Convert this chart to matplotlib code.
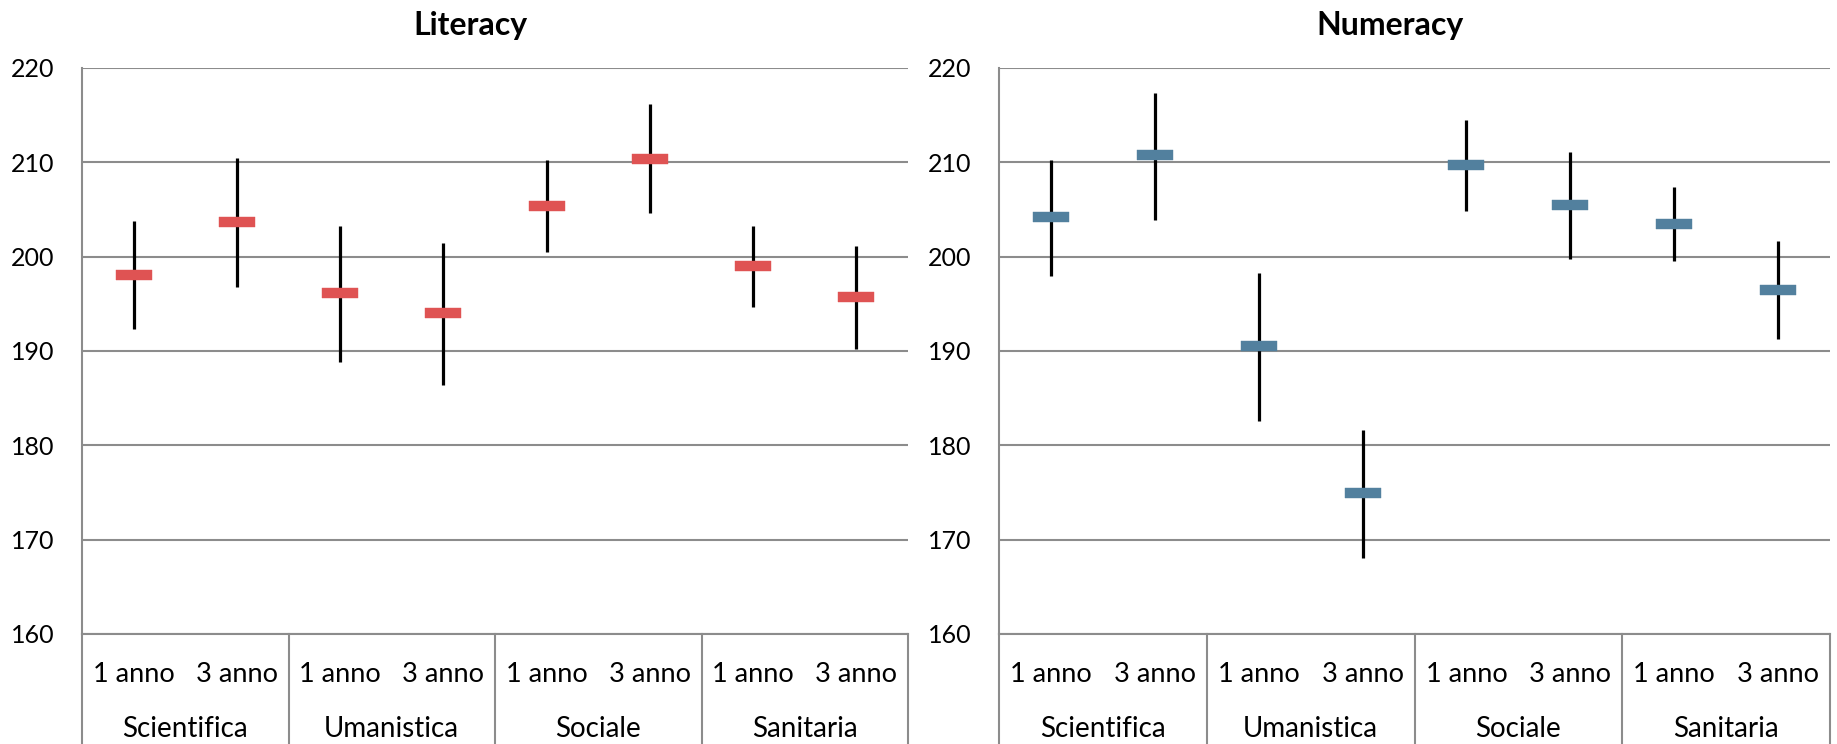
import numpy as np
import matplotlib.pyplot as plt
import matplotlib.transforms as mtransforms

plt.rcParams['font.family'] = ['Lato', 'DejaVu Sans']

# ── Data ──
groups = ['Scientifica', 'Umanistica', 'Sociale', 'Sanitaria']
years = ['1 anno', '3 anno']

lit_mean = [198.1, 203.7, 196.1, 194.0, 205.4, 210.4, 199.0, 195.7]
lit_low = [192.3, 196.8, 188.8, 186.4, 200.5, 204.6, 194.7, 190.2]
lit_high = [203.8, 210.5, 203.2, 201.5, 210.2, 216.2, 203.2, 201.1]

num_mean = [204.2, 210.8, 190.5, 174.9, 209.7, 205.5, 203.5, 196.5]
num_low = [198.0, 203.9, 182.6, 168.1, 204.8, 199.8, 199.5, 191.3]
num_high = [210.3, 217.4, 198.3, 181.6, 214.5, 211.1, 207.4, 201.7]

panels = [
    ('Literacy', lit_mean, lit_low, lit_high, '#DF5353'),
    ('Numeracy', num_mean, num_low, num_high, '#52809E'),
]

grid_c = '#8C8C8C'
dash = [(-1, -0.25), (1, -0.25), (1, 0.25), (-1, 0.25), (-1, -0.25)]

fig = plt.figure(figsize=(18.37, 7.44), dpi=100)
lefts = [82 / 1837, 999 / 1837]
widths = [826 / 1837, 831 / 1837]

for (title, mean, low, high, col), l, w in zip(panels, lefts, widths):
    ax = fig.add_axes([l, 110 / 744, w, 566 / 744])
    x = np.arange(len(mean)) + 0.5
    mean = np.array(mean)
    ax.vlines(x, low, high, color='black', lw=2.3, zorder=3)
    ax.plot(x, mean, ls='none', marker=dash, markersize=26,
            color=col, markeredgecolor=col, markeredgewidth=0.3, zorder=4)

    ax.set_xlim(0, 8)
    ax.set_ylim(160, 220)
    ax.set_yticks(np.arange(160, 221, 10))
    ax.set_xticks([])
    ax.yaxis.grid(True, color=grid_c, lw=1.5)
    ax.set_axisbelow(True)
    ax.tick_params(axis='y', length=0, pad=20, labelsize=18)
    for s in ['top', 'right']:
        ax.spines[s].set_visible(False)
    for s in ['left', 'bottom']:
        ax.spines[s].set_color(grid_c)
        ax.spines[s].set_linewidth(1.5)

    # category axis below the plot
    trans = mtransforms.blended_transform_factory(ax.transData, ax.transAxes)
    for xd in [0, 2, 4, 6, 8]:
        ax.plot([xd, xd], [0, -0.2], color=grid_c, lw=1.5,
                transform=trans, clip_on=False)
    for i, g in enumerate(groups):
        for j, yr in enumerate(years):
            ax.text(2 * i + j + 0.5, -0.0707, yr, transform=trans,
                    ha='center', va='center', fontsize=19.5)
        ax.text(2 * i + 1, -0.168, g, transform=trans,
                ha='center', va='center', fontsize=20)

    ax.set_title(title, x=0.47, pad=24, fontsize=23, fontweight='bold')

plt.savefig('out.png', dpi=100)
plt.close()
